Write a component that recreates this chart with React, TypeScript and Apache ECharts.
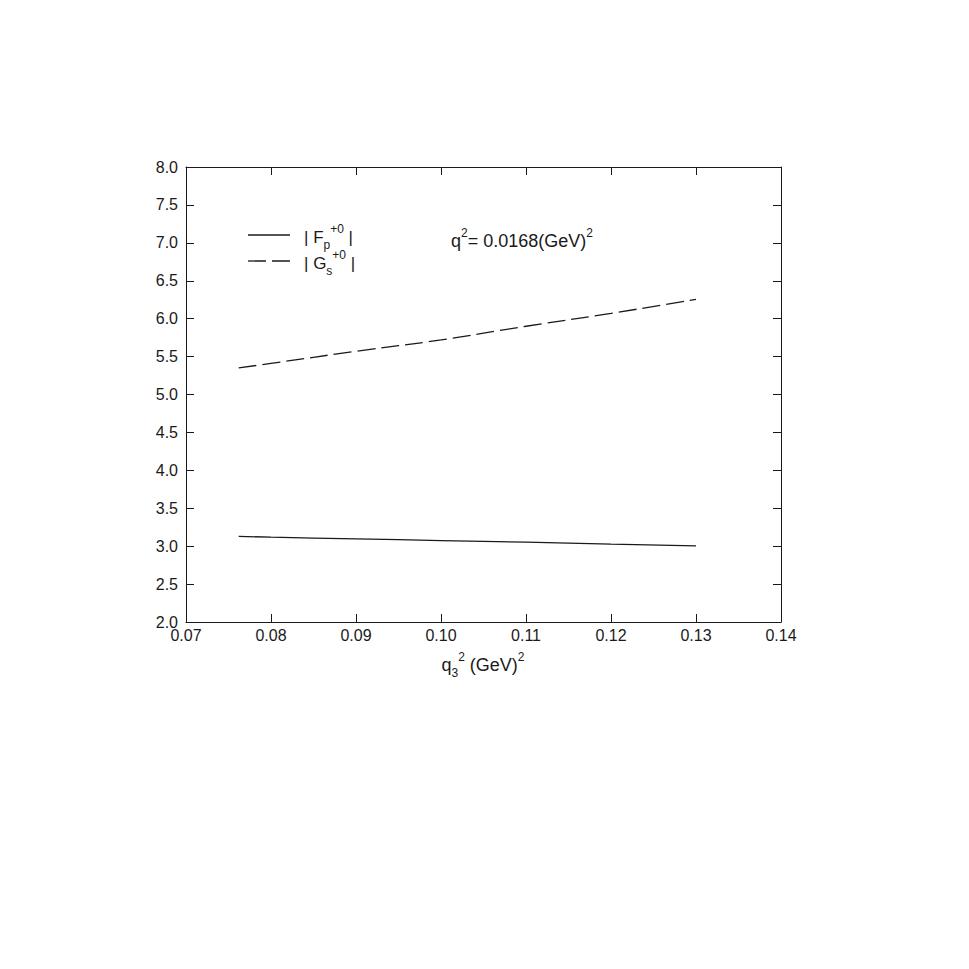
import React, { useEffect, useRef } from "react";
import * as echarts from "echarts";

const q3sq = [0.0762, 0.08, 0.09, 0.10, 0.11, 0.12, 0.13];
const Fp = [3.13, 3.118, 3.096, 3.074, 3.052, 3.028, 3.005];
const Gs = [5.35, 5.41, 5.57, 5.72, 5.9, 6.07, 6.255];

const xTicks = [0.07, 0.08, 0.09, 0.1, 0.11, 0.12, 0.13, 0.14];
const yTicks = [2.0, 2.5, 3.0, 3.5, 4.0, 4.5, 5.0, 5.5, 6.0, 6.5, 7.0, 7.5, 8.0];

const FONT = "'Liberation Sans', Arial, Helvetica, sans-serif";
const INK = "#1a1a1a";

export default function App() {
  const ref = useRef<HTMLDivElement>(null);
  useEffect(() => {
    if (!ref.current) return;
    const chart = echarts.init(ref.current, undefined, { renderer: "svg" });
    const axisCommon = {
      type: "value" as const,
      axisLine: { show: true, onZero: false, lineStyle: { color: INK, width: 1 } },
      axisTick: { show: true, inside: true, length: 8, lineStyle: { color: INK, width: 1 } },
      splitLine: { show: false },
    };
    const rich = {
      sup: { fontSize: 12, lineHeight: 12, verticalAlign: "top", fontFamily: FONT, fill: INK },
      sub: { fontSize: 12, lineHeight: 16, verticalAlign: "bottom", fontFamily: FONT, fill: INK },
    };
    const txt = (text: string, x: number, y: number, size: number, align = "left") => ({
      type: "text",
      x,
      y,
      style: {
        text,
        fontSize: size,
        fontFamily: FONT,
        fill: INK,
        lineHeight: 28,
        verticalAlign: "middle",
        align,
        rich,
      },
    });
    chart.setOption({
      animation: false,
      backgroundColor: "#ffffff",
      grid: { left: 186, right: 188, top: 167, bottom: 347, containLabel: false },
      xAxis: [
        {
          ...axisCommon,
          position: "bottom",
          min: xTicks[0],
          max: xTicks[xTicks.length - 1],
          interval: 0.01,
          axisLabel: {
            show: true,
            margin: 5,
            fontSize: 16,
            fontFamily: FONT,
            color: INK,
            formatter: (v: number) => v.toFixed(2),
          },
        },
        {
          ...axisCommon,
          position: "top",
          min: xTicks[0],
          max: xTicks[xTicks.length - 1],
          interval: 0.01,
          axisLabel: { show: false },
        },
      ],
      yAxis: [
        {
          ...axisCommon,
          position: "left",
          min: yTicks[0],
          max: yTicks[yTicks.length - 1],
          interval: 0.5,
          axisLabel: {
            show: true,
            margin: 8,
            fontSize: 16,
            fontFamily: FONT,
            color: INK,
            formatter: (v: number) => v.toFixed(1),
          },
        },
        {
          ...axisCommon,
          position: "right",
          min: yTicks[0],
          max: yTicks[yTicks.length - 1],
          interval: 0.5,
          axisLabel: { show: false },
        },
      ],
      series: [
        {
          name: "|Fp+0|",
          type: "line",
          data: q3sq.map((x, i) => [x, Fp[i]]),
          showSymbol: false,
          symbol: "none",
          smooth: true,
          lineStyle: { color: INK, width: 1.3, type: "solid" },
        },
        {
          name: "|Gs+0|",
          type: "line",
          data: q3sq.map((x, i) => [x, Gs[i]]),
          showSymbol: false,
          symbol: "none",
          smooth: true,
          lineStyle: { color: INK, width: 1.3, type: [18, 6] },
        },
      ],
      graphic: [
        {
          type: "line",
          shape: { x1: 248, y1: 235, x2: 290, y2: 235 },
          style: { stroke: INK, lineWidth: 1.3 },
        },
        {
          type: "line",
          shape: { x1: 248, y1: 261, x2: 290, y2: 261 },
          style: { stroke: INK, lineWidth: 1.3, lineDash: [18, 6] },
        },
        txt("| F{sub|p}{sup|+0} |", 304, 237, 17),
        txt("| G{sub|s}{sup|+0} |", 304, 263, 17),
        txt("q{sup|2}= 0.0168(GeV){sup|2}", 451, 241, 18),
        txt("q{sub|3}{sup|2} (GeV){sup|2}", 483, 665, 18, "center"),
      ],
    });
    return () => chart.dispose();
  }, []);
  return (
    <div
      ref={ref}
      style={{ position: "fixed", left: 0, top: 0, width: 969, height: 969 }}
    />
  );
}
